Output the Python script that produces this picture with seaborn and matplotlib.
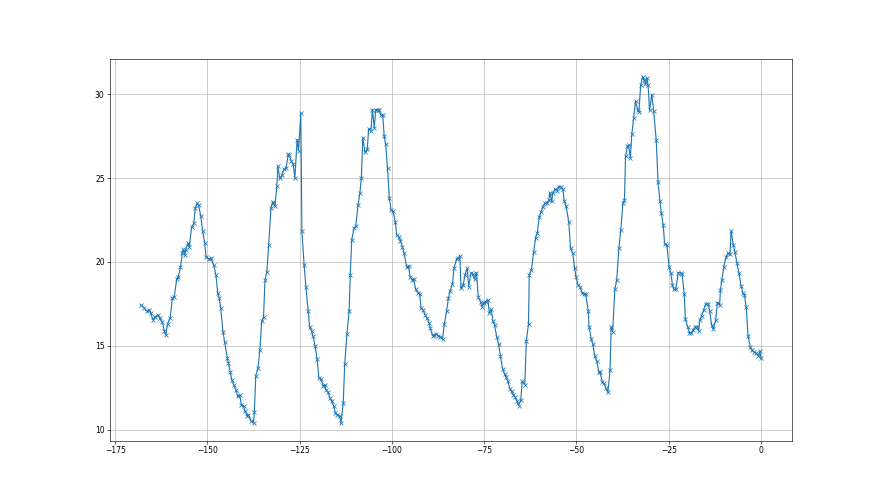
import numpy as np
import pandas as pd
import seaborn as sns
import matplotlib
matplotlib.use("Agg")
import matplotlib.pyplot as plt

# values
t = [-168.0, -167.1, -166.5, -165.8, -165.3, -164.8, -164.2, -163.5, -162.9, -162.2,
     -161.7, -161.3, -160.8, -160.1, -159.5, -159.0, -158.3, -157.9, -157.3, -156.8,
     -156.5, -156.1, -155.9, -155.3, -154.9, -154.3, -153.7, -153.3, -152.8, -152.4,
     -151.8, -151.3, -150.7, -150.4, -149.7, -149.0, -148.3, -147.7, -147.2, -146.8,
     -146.4, -145.8, -145.3, -144.6, -144.3, -143.8, -143.4, -142.9, -142.3, -141.8,
     -141.3, -140.8, -140.2, -139.8, -139.2, -138.9, -138.1, -137.5, -137.3, -136.9,
     -136.3, -135.8, -135.3, -134.8, -134.4, -133.9, -133.4, -132.8, -132.3, -132.1,
     -131.7, -131.2, -130.9, -130.4, -129.8, -129.3, -128.7, -128.1, -127.8, -127.3,
     -126.8, -126.3, -125.7, -125.3, -124.7, -124.4, -123.8, -123.3, -122.7, -122.3,
     -121.8, -121.4, -120.8, -120.3, -119.8, -119.2, -118.6, -118.2, -117.8, -117.3,
     -116.8, -116.3, -115.8, -115.3, -114.8, -114.2, -113.8, -113.2, -112.8, -112.2,
     -111.6, -111.3, -110.9, -110.3, -109.8, -109.2, -108.7, -108.3, -107.9, -107.3,
     -106.7, -106.3, -105.7, -105.3, -104.8, -104.4, -103.9, -103.5, -103.0, -102.5,
     -102.1, -101.7, -101.2, -100.7, -100.2, -99.7, -99.1, -98.7, -98.2, -97.7,
     -97.2, -96.7, -96.0, -95.5, -95.1, -94.5, -94.1, -93.6, -93.0, -92.5,
     -92.1, -91.6, -91.0, -90.5, -89.9, -89.6, -89.0, -88.5, -88.0, -87.4,
     -86.9, -86.3, -85.8, -85.2, -84.7, -84.2, -83.6, -83.2, -82.5, -82.0,
     -81.6, -81.3, -80.7, -80.2, -79.6, -79.2, -78.6, -78.1, -77.6, -77.1,
     -76.6, -76.0, -75.6, -75.1, -74.5, -74.0, -73.6, -73.1, -72.6, -72.2,
     -71.6, -71.1, -70.6, -70.0, -69.5, -69.1, -68.6, -68.0, -67.6, -67.1,
     -66.6, -66.1, -65.7, -65.1, -64.7, -64.0, -63.6, -63.0, -62.8, -62.2,
     -61.6, -61.1, -60.6, -60.1, -59.6, -59.2, -58.6, -58.1, -57.5, -57.2,
     -56.7, -56.4, -55.8, -55.2, -54.8, -54.3, -53.7, -53.3, -52.8, -52.1,
     -51.6, -51.0, -50.5, -50.1, -49.6, -49.0, -48.5, -48.0, -47.5, -46.8,
     -46.6, -46.0, -45.6, -45.0, -44.5, -43.9, -43.6, -43.0, -42.6, -42.0,
     -41.5, -40.9, -40.6, -40.2, -39.6, -39.1, -38.5, -38.0, -37.4, -37.0,
     -36.7, -36.2, -35.9, -35.4, -35.0, -34.5, -34.0, -33.4, -33.1, -32.6,
     -32.1, -31.6, -31.3, -30.9, -30.6, -30.2, -29.6, -29.1, -28.4, -27.9,
     -27.4, -27.0, -26.5, -26.1, -25.5, -24.9, -24.4, -24.0, -23.6, -23.1,
     -22.4, -21.8, -21.4, -20.8, -20.5, -19.9, -19.4, -18.9, -18.4, -17.9,
     -17.3, -16.9, -16.6, -16.1, -15.5, -15.0, -14.3, -13.9, -13.4, -12.9,
     -12.3, -11.8, -11.2, -11.0, -10.6, -10.1, -9.5, -9.0, -8.4, -8.1,
     -7.5, -7.1, -6.5, -6.0, -5.4, -4.9, -4.5, -4.0, -3.5, -2.9,
     -2.4, -1.8, -1.3, -0.7, -0.3, 0.0]

values = [17.44, 17.24, 17.08, 17.14, 16.94, 16.55, 16.71, 16.85, 16.65, 16.39,
          15.91, 15.63, 16.31, 16.65, 17.84, 17.93, 18.99, 19.13, 19.68, 20.55,
          20.75, 20.42, 20.71, 21.11, 20.91, 22.06, 22.30, 23.19, 23.49, 23.39,
          22.74, 21.86, 21.11, 20.32, 20.18, 20.22, 19.82, 19.23, 18.14, 17.84,
          17.24, 15.85, 15.20, 14.27, 13.97, 13.41, 12.98, 12.68, 12.38, 11.98,
          12.08, 11.49, 11.39, 11.09, 10.83, 10.89, 10.49, 10.40, 11.03, 13.21,
          13.67, 14.72, 16.45, 16.71, 18.93, 19.42, 21.01, 23.19, 23.59, 23.49,
          23.33, 24.52, 25.71, 24.98, 25.18, 25.52, 25.58, 26.43, 26.37, 26.01,
          25.87, 25.01, 27.30, 26.63, 28.89, 21.85, 19.82, 18.49, 17.08, 16.11,
          15.89, 15.60, 14.96, 14.23, 13.08, 13.02, 12.58, 12.68, 12.34, 12.22,
          11.88, 11.68, 11.43, 10.99, 10.89, 10.83, 10.38, 11.59, 13.91, 15.70,
          17.08, 19.23, 21.31, 22.00, 22.14, 23.39, 24.09, 24.98, 27.42, 26.53,
          26.73, 27.96, 27.82, 29.09, 28.02, 29.09, 29.09, 29.05, 28.75, 28.75,
          27.50, 27.02, 25.58, 23.79, 23.08, 23.02, 22.40, 21.61, 21.51, 21.27,
          20.91, 20.51, 19.68, 19.78, 19.13, 18.93, 18.97, 18.37, 18.17, 18.10,
          17.24, 17.14, 16.85, 16.65, 16.35, 16.05, 15.60, 15.65, 15.71, 15.60,
          15.52, 15.40, 16.31, 17.05, 17.84, 18.29, 18.69, 19.62, 20.16, 20.22,
          20.38, 18.43, 18.63, 19.23, 19.62, 18.53, 19.36, 19.29, 18.97, 19.36,
          17.90, 17.64, 17.34, 17.58, 17.64, 17.74, 16.94, 17.18, 16.45, 16.25,
          15.52, 15.10, 14.37, 13.61, 13.33, 13.14, 12.88, 12.42, 12.28, 12.08,
          11.94, 11.69, 11.43, 11.75, 12.88, 12.68, 15.26, 16.31, 19.23, 19.52,
          20.61, 21.41, 21.75, 22.66, 23.00, 23.26, 23.49, 23.53, 23.67, 24.14,
          23.61, 24.11, 24.35, 24.26, 24.50, 24.50, 24.35, 23.61, 23.33, 22.40,
          20.81, 20.51, 19.62, 19.08, 18.63, 18.49, 18.17, 18.10, 18.10, 17.05,
          16.15, 15.40, 15.12, 14.37, 14.07, 13.41, 13.41, 12.82, 12.78, 12.48,
          12.22, 13.53, 16.15, 15.85, 18.37, 18.93, 20.81, 21.90, 23.53, 23.69,
          26.31, 26.90, 26.96, 26.23, 27.62, 28.61, 29.60, 29.05, 28.95, 30.54,
          31.05, 30.83, 30.63, 30.98, 30.54, 29.05, 29.98, 29.03, 27.30, 24.78,
          23.65, 22.90, 22.20, 21.05, 21.01, 19.68, 19.32, 18.63, 18.37, 18.37,
          19.36, 19.36, 19.29, 18.10, 16.59, 16.15, 15.79, 15.75, 15.95, 16.11,
          16.15, 15.89, 16.51, 16.79, 17.14, 17.50, 17.50, 17.10, 16.25, 16.00,
          16.51, 17.58, 17.44, 18.33, 18.93, 19.68, 20.28, 20.51, 20.48, 21.86,
          21.01, 20.61, 19.92, 19.36, 18.57, 18.17, 18.04, 17.30, 15.56, 14.92,
          14.72, 14.60, 14.56, 14.40, 14.66, 14.27]

df = pd.DataFrame({"t": t, "value": values})

fig, ax = plt.subplots(figsize=(16, 9), dpi=55)
sns.lineplot(data=df, x="t", y="value", ax=ax,
             marker="x", color="#1f77b4", linewidth=1.5,
             markeredgecolor="#1f77b4", markeredgewidth=1.0, markersize=6,
             sort=False)
ax.set(xlabel="", ylabel="")
ax.grid(True)
ax.set_yticks([10, 15, 20, 25, 30])
fig.savefig("out.png", dpi=55)
